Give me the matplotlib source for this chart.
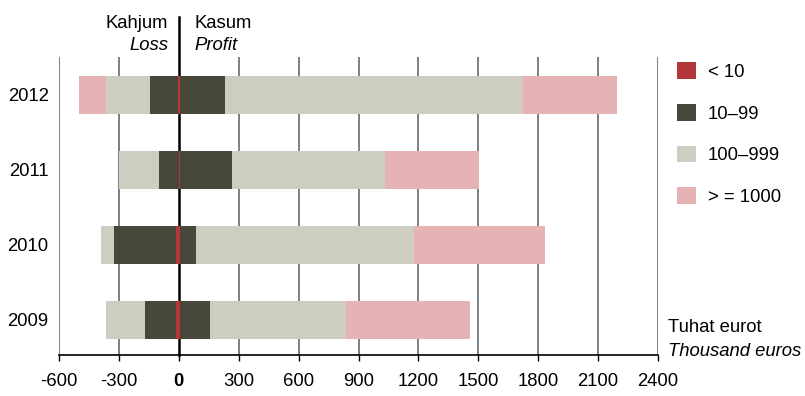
import numpy as np
import matplotlib.pyplot as plt

plt.rcParams['font.family'] = ['Liberation Sans', 'DejaVu Sans']

# data (thousand euros), bottom row first
years = ['2009', '2010', '2011', '2012']
categories = ['< 10', '10\u201399', '100\u2013999', '> = 1000']
colors = ['#b3363a', '#48483a', '#cdcdc1', '#e5b3b3']

# loss side (absolute widths per category)
loss = {
    '< 10':     [12, 12, 1, 3],
    '10\u201399':   [156, 314, 97, 143],
    '100\u2013999': [195, 62, 199, 220],
    '> = 1000': [0, 0, 0, 134],
}
# profit side
profit = {
    '< 10':     [6, 6, 8, 8],
    '10\u201399':   [152, 81, 258, 224],
    '100\u2013999': [679, 1090, 766, 1490],
    '> = 1000': [620, 655, 471, 472],
}

xticks = [-600, -300, 0, 300, 600, 900, 1200, 1500, 1800, 2100, 2400]

fs = 13.3

fig = plt.figure(figsize=(8.05, 3.96), dpi=100)
ax = fig.add_axes([59/805, 1-355/396, (658-59)/805, (355-57)/396])

y = np.arange(len(years))
h = 0.5

# grid first so bars sit on top
for t in xticks:
    if t == 0:
        continue
    ax.axvline(t, color='#7f7f7f', lw=1.4, zorder=0)
ax.plot([0, 0], [0, 1.135], transform=ax.get_xaxis_transform(), color='black',
        lw=1.8, clip_on=False, zorder=1)

handles = []
lcum = np.zeros(len(years))
pcum = np.zeros(len(years))
for cat, col in zip(categories, colors):
    lv = np.array(loss[cat], dtype=float)
    pv = np.array(profit[cat], dtype=float)
    ax.barh(y, -lv, left=-lcum, height=h, color=col, lw=0, zorder=2)
    b = ax.barh(y, pv, left=pcum, height=h, color=col, lw=0, zorder=2, label=cat)
    handles.append(b)
    lcum += lv
    pcum += pv

ax.set_xlim(-600, 2400)
ax.set_ylim(-0.47, 3.507)
ax.set_xticks(xticks)
ax.set_xticklabels([str(t) for t in xticks], fontsize=fs)
for lab in ax.get_xticklabels():
    if lab.get_text() == '0':
        lab.set_fontweight('bold')
ax.set_yticks(y)
ax.set_yticklabels(years, fontsize=fs)
ax.tick_params(axis='y', length=0, pad=7.5)
ax.tick_params(axis='x', length=4, width=1, direction='out', pad=9)

for s in ['top', 'left', 'right']:
    ax.spines[s].set_visible(False)
ax.spines['bottom'].set_color('black')
ax.spines['bottom'].set_linewidth(1.2)

# header labels
fig.text(168/805, 1-23/396, 'Kahjum', ha='right', va='center', fontsize=fs)
fig.text(168/805, 1-46/396, 'Loss', ha='right', va='center', fontsize=fs, style='italic')
fig.text(194/805, 1-23/396, 'Kasum', ha='left', va='center', fontsize=fs)
fig.text(194/805, 1-46/396, 'Profit', ha='left', va='center', fontsize=fs, style='italic')

fig.text(668/805, 1-328/396, 'Tuhat eurot', ha='left', va='center', fontsize=fs)
fig.text(668/805, 1-351/396, 'Thousand euros', ha='left', va='center', fontsize=fs, style='italic')

fig.legend(handles=handles, labels=categories, loc='upper left',
           bbox_to_anchor=(670/805, 1-55/396), frameon=False, fontsize=fs,
           handlelength=1.0, handleheight=1.0, labelspacing=1.25, handletextpad=0.65,
           borderaxespad=0)

fig.savefig('out.png', dpi=100)
